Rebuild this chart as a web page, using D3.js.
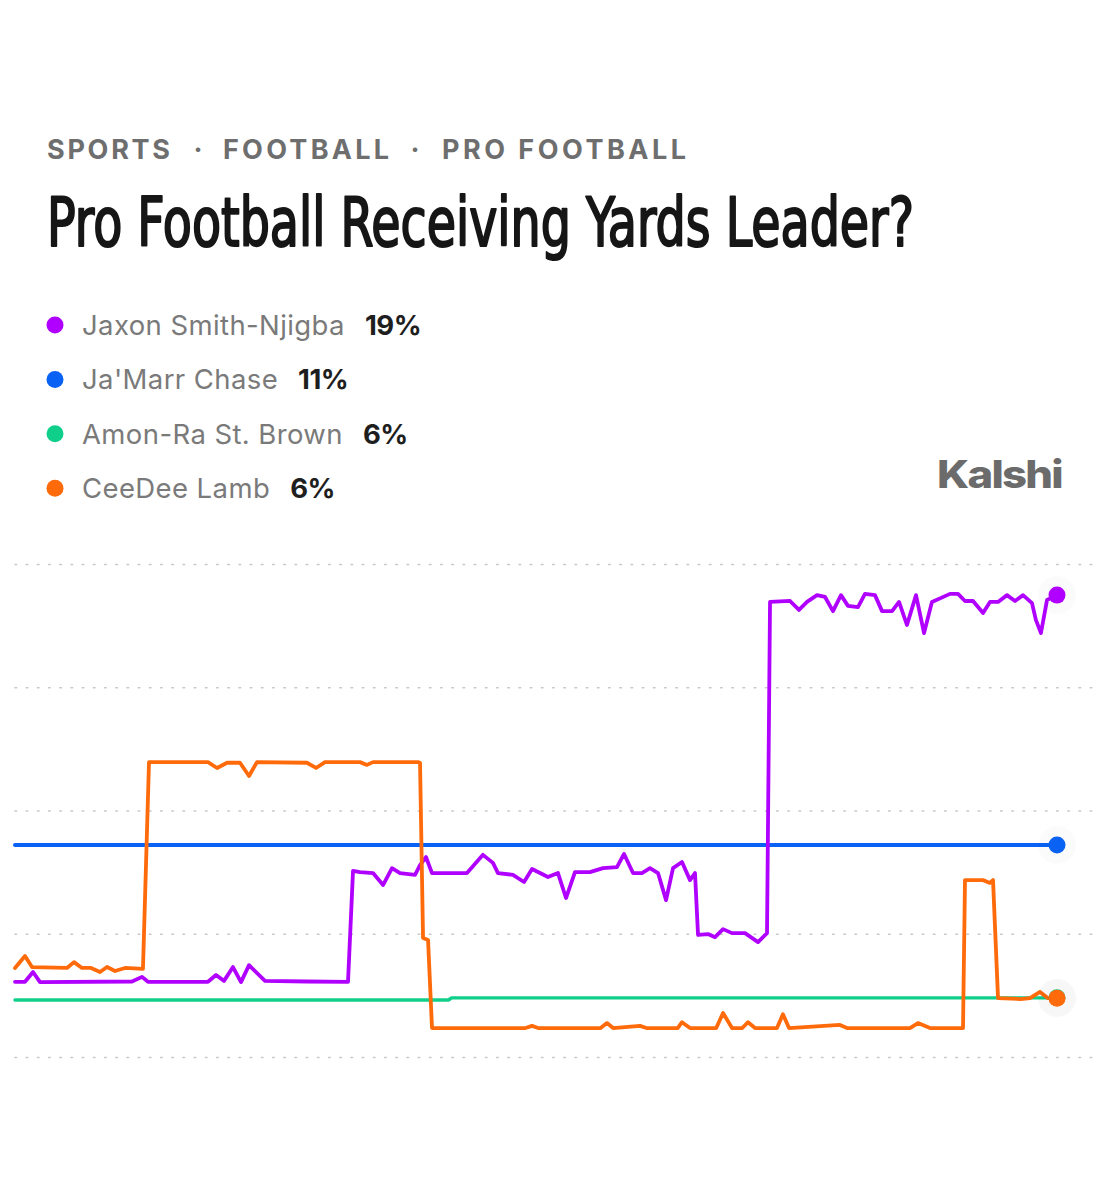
<!DOCTYPE html>
<html><head><meta charset="utf-8">
<script src="https://cdn.jsdelivr.net/npm/d3@7"></script>
<style>html,body{margin:0;padding:0;background:#fff;}svg{display:block;}</style>
</head><body>
<script>
// ---- Data ----
const breadcrumb = ["SPORTS", "FOOTBALL", "PRO FOOTBALL"];
const title = "Pro Football Receiving Yards Leader?";
const names = ["Jaxon Smith-Njigba", "Ja'Marr Chase", "Amon-Ra St. Brown", "CeeDee Lamb"];
const currentPct = [19, 11, 6, 6];
const colors = ["#b000ff", "#0a62f5", "#0fcf8a", "#ff6a0a"];
const gridTicks = [4, 8, 12, 16, 20];

// time (0-100 % of period), chance (%)
const jaxon = [[0,6.44],[0.96,6.44],[1.73,6.76],[2.4,6.43],[11.23,6.45],[12.19,6.60],[12.76,6.44],[18.52,6.44],[19.29,6.66],[20.06,6.47],[20.92,6.92],[21.69,6.43],[22.46,6.98],[23.99,6.47],[28,6.45],[31.96,6.44],[32.44,10.04],[33.11,10.00],[34.36,9.97],[35.32,9.58],[36.18,10.13],[36.95,9.97],[38.39,9.91],[38.87,10.23],[39.44,10.49],[40.02,9.97],[43.38,9.97],[44.91,10.56],[45.87,10.30],[46.35,9.97],[47.79,9.91],[48.85,9.68],[49.62,10.10],[51.15,9.84],[52.11,9.97],[52.88,9.16],[53.74,10.00],[55.18,10.00],[56.43,10.13],[57.77,10.16],[58.45,10.59],[59.31,9.97],[60.17,9.97],[60.94,10.13],[61.71,9.97],[62.48,9.09],[63.15,10.13],[64.01,10.33],[64.78,9.74],[65.26,9.97],[65.55,7.96],[66.51,7.99],[67.18,7.89],[67.95,8.15],[68.81,8.02],[70.06,8.02],[71.31,7.73],[72.17,8.02],[72.46,18.77],[74.38,18.80],[75.24,18.51],[76.01,18.77],[76.97,18.99],[77.74,18.93],[78.50,18.47],[79.27,18.99],[79.94,18.64],[80.90,18.60],[81.57,19.03],[82.53,18.99],[83.21,18.47],[84.17,18.47],[84.84,18.77],[85.60,18.02],[86.47,18.99],[87.24,17.76],[88.00,18.77],[89.73,19.03],[90.50,19.03],[91.17,18.80],[91.94,18.80],[92.90,18.41],[93.57,18.77],[94.34,18.77],[95.20,18.99],[95.97,18.80],[96.74,18.99],[97.60,18.73],[97.98,18.18],[98.46,17.76],[99.04,18.83],[100,18.99]];
const chase = [[0,10.88],[100,10.88]];
const amonRa = [[0,5.85],[41.6,5.85],[41.9,5.92],[100,5.92]];
const ceedee = [[0,6.89],[0.96,7.28],[1.63,6.92],[4.99,6.89],[5.66,7.08],[6.43,6.89],[7.3,6.89],[8.16,6.76],[8.83,6.92],[9.60,6.79],[10.56,6.89],[12.28,6.86],[12.86,13.57],[18.52,13.57],[19.39,13.38],[20.35,13.55],[21.59,13.55],[22.46,13.12],[23.22,13.57],[28.02,13.55],[28.89,13.38],[29.75,13.57],[33.11,13.57],[33.78,13.48],[34.36,13.57],[38.68,13.57],[38.87,13.55],[39.16,7.86],[39.64,7.80],[40.02,4.94],[49.0,4.94],[49.62,5.01],[50.2,4.94],[56.2,4.94],[56.81,5.10],[57.4,4.94],[59.98,5.01],[60.6,4.94],[63.6,4.94],[64.01,5.13],[64.78,4.94],[67.3,4.94],[67.95,5.43],[68.81,4.94],[69.8,4.94],[70.35,5.13],[71.02,4.94],[73.13,4.94],[73.70,5.39],[74.28,4.94],[79.17,5.04],[79.85,4.94],[85.89,4.94],[86.66,5.10],[87.81,4.94],[90.98,4.94],[91.17,9.74],[92.9,9.74],[93.57,9.65],[93.86,9.74],[94.34,5.91],[96.5,5.88],[97.41,5.91],[98.37,6.11],[99.14,5.91],[100,5.91]];

const seriesList = [jaxon, chase, amonRa, ceedee];
const drawOrder = [2, 1, 0, 3];

// ---- Layout ----
const W = 1109, H = 1200;
const svg = d3.select("body").append("svg").attr("width", W).attr("height", H);
svg.append("rect").attr("width", W).attr("height", H).attr("fill", "#fff");

const sans = "Inter, 'Noto Sans', 'Liberation Sans', sans-serif";

// breadcrumb
const bcX = [47, 223, 442];
const bcLen = [125, 168, 246];
const bcDots = [198, 415];
const bcG = svg.append("g").attr("font-family", sans).attr("font-weight", 700)
  .attr("font-size", 27).attr("fill", "#6e6e6e");
breadcrumb.forEach((w, i) => {
  bcG.append("text").attr("x", bcX[i]).attr("y", 159)
    .attr("letter-spacing", "2px")
    .attr("textLength", bcLen[i]).attr("lengthAdjust", "spacing").text(w);
});
bcDots.forEach(cx => {
  bcG.append("text").attr("x", cx).attr("y", 159).attr("text-anchor", "middle").text("·");
});

// title (condensed by horizontal scaling to the target width)
const titleG = svg.append("g");
const titleT = titleG.append("text").attr("x", 0).attr("y", 0)
  .attr("font-family", "'DejaVu Sans Condensed', 'Liberation Sans Narrow', sans-serif")
  .attr("font-weight", 400).attr("font-size", 68).attr("fill", "#161616")
  .attr("stroke", "#161616").attr("stroke-width", 2.1).attr("stroke-linejoin", "round")
  .text(title);
const natW = titleT.node().getComputedTextLength();
titleG.attr("transform", `translate(47,246) scale(${867 / natW},1)`);

// legend
const leg = svg.append("g");
names.forEach((n, i) => {
  const cy = 325 + i * 54.4;
  leg.append("circle").attr("cx", 55).attr("cy", cy).attr("r", 8.5).attr("fill", colors[i]);
  const t = leg.append("text").attr("x", 82).attr("y", cy + 10)
    .attr("font-family", sans).attr("font-size", 27.5).attr("fill", "#7a7a7a")
    .attr("letter-spacing", "0.4px");
  t.append("tspan").text(n);
  t.append("tspan").attr("dx", 20).attr("font-weight", 700).attr("fill", "#1e1e1e")
    .attr("letter-spacing", "-0.5px").text(currentPct[i] + "%");
});

// logo
svg.append("text").attr("x", 937).attr("y", 488)
  .attr("font-family", sans).attr("font-weight", 800).attr("font-size", 38)
  .attr("letter-spacing", "-1.5px").attr("fill", "#6b6b6b")
  .attr("textLength", 125).attr("lengthAdjust", "spacingAndGlyphs")
  .text("Kalshi");

// scales
const x = d3.scaleLinear().domain([0, 100]).range([15, 1057]);
const y = d3.scaleLinear().domain([4, 20]).range([1057, 564]);

// grid
const grid = svg.append("g").attr("transform", "translate(15,0)")
  .call(d3.axisLeft(y).tickValues(gridTicks).tickSize(-1080).tickFormat(""));
grid.select(".domain").remove();
grid.selectAll(".tick line").attr("stroke", "#c8c8c8").attr("stroke-width", 1.6)
  .attr("stroke-dasharray", "1.6,9.6").attr("stroke-linecap", "round");

// lines
const line = d3.line().x(d => x(d[0])).y(d => y(d[1])).curve(d3.curveLinear);
const widths = [3.8, 4, 3.4, 3.8];
drawOrder.forEach(i => {
  svg.append("path").datum(seriesList[i]).attr("d", line)
    .attr("fill", "none").attr("stroke", colors[i]).attr("stroke-width", widths[i])
    .attr("stroke-linejoin", "round").attr("stroke-linecap", "round");
});

// end dots
drawOrder.forEach(i => {
  const last = seriesList[i][seriesList[i].length - 1];
  svg.append("circle").attr("cx", x(last[0])).attr("cy", y(last[1])).attr("r", 19)
    .attr("fill", "#000").attr("fill-opacity", 0.015);
  svg.append("circle").attr("cx", x(last[0])).attr("cy", y(last[1])).attr("r", 8.5)
    .attr("fill", colors[i]);
});
</script>
</body></html>
